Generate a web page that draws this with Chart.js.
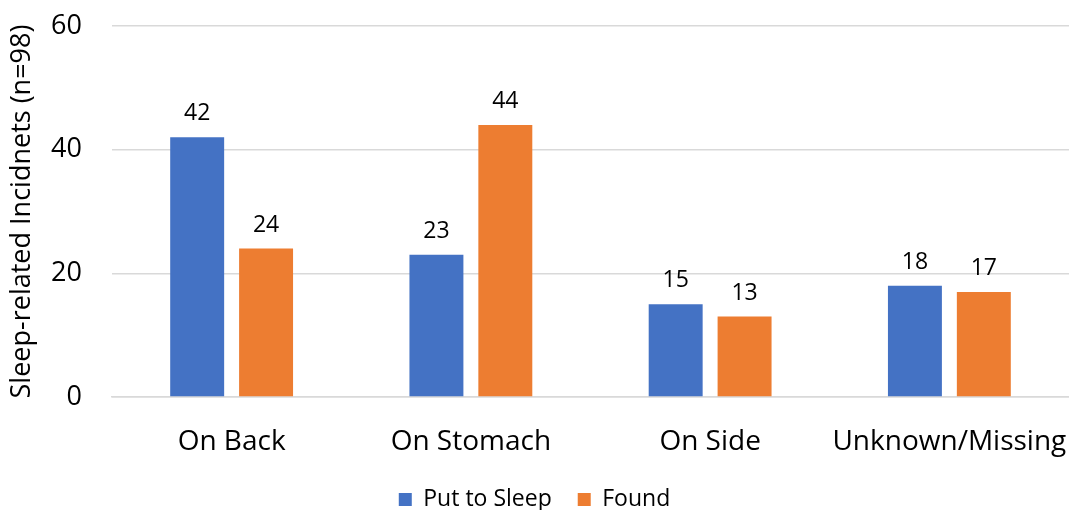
<!DOCTYPE html>
<html>
<head>
<meta charset="utf-8">
<script src="https://cdn.jsdelivr.net/npm/chart.js@4/dist/chart.umd.min.js"></script>
<style>
    html, body { margin: 0; padding: 0; background: #fff; }
    #wrap { width: 1069px; height: 510px; }
</style>
</head>
<body>
<div id="wrap"><canvas id="sleepChart"></canvas></div>
<script>
const categories = ["On Back", "On Stomach", "On Side", "Unknown/Missing"];
const putToSleep = [42, 23, 15, 18];
const found = [24, 44, 13, 17];
const yTicks = [0, 20, 40, 60];

const FONT = "'Open Sans', sans-serif";

// etichette sopra le barre
const barLabels = {
    id: "barLabels",
    afterDatasetsDraw(chart) {
        const ctx = chart.ctx;
        ctx.save();
        ctx.font = "23px " + FONT;
        ctx.fillStyle = "#000";
        ctx.textAlign = "center";
        ctx.textBaseline = "alphabetic";
        chart.data.datasets.forEach((ds, i) => {
            chart.getDatasetMeta(i).data.forEach((bar, j) => {
                ctx.fillText(String(ds.data[j]), bar.x, bar.y - 17);
            });
        });
        ctx.restore();
    },
};

const ctx = document.getElementById("sleepChart").getContext("2d");

new Chart(ctx, {
    type: "bar",
    data: {
        labels: categories,
        datasets: [
            {
                label: "Put to Sleep",
                data: putToSleep,
                backgroundColor: "#4472C4",
                categoryPercentage: 0.576,
                barPercentage: 0.783,
            },
            {
                label: "Found",
                data: found,
                backgroundColor: "#ED7D31",
                categoryPercentage: 0.576,
                barPercentage: 0.783,
            },
        ],
    },
    plugins: [barLabels],
    options: {
        responsive: true,
        maintainAspectRatio: false,
        animation: false,
        layout: { padding: { top: 26, right: 0, left: 0, bottom: -11 } },
        plugins: {
            legend: {
                position: "bottom",
                labels: {
                    font: { family: FONT, size: 23 },
                    color: "#000",
                    boxWidth: 13,
                    boxHeight: 13,
                    padding: 26,
                },
            },
            tooltip: { enabled: false },
        },
        scales: {
            x: {
                grid: { display: false, drawTicks: false },
                border: { color: "#d9d9d9", width: 1.5 },
                ticks: {
                    font: { family: FONT, size: 28 },
                    color: "#000",
                    padding: 28,
                    maxRotation: 0,
                    minRotation: 0,
                    autoSkip: false,
                },
                afterFit(scale) {
                    scale.height = 65;
                    scale.paddingLeft = 0;
                    scale.paddingRight = 0;
                },
            },
            y: {
                min: 0,
                max: 60,
                afterBuildTicks(scale) {
                    scale.ticks = yTicks.map((v) => ({ value: v }));
                },
                grid: { color: "#d9d9d9", lineWidth: 1.5, drawTicks: false },
                border: { display: false },
                ticks: {
                    font: { family: FONT, size: 27 },
                    color: "#000",
                    padding: 30,
                },
                title: {
                    display: true,
                    text: "Sleep-related Incidnets (n=98)",
                    font: { family: FONT, size: 27 },
                    color: "#000",
                    padding: { top: 6, bottom: 0 },
                },
                afterFit(scale) {
                    scale.width = 112;
                    scale.paddingTop = 0;
                    scale.paddingBottom = 0;
                },
            },
        },
    },
});
</script>
</body>
</html>
